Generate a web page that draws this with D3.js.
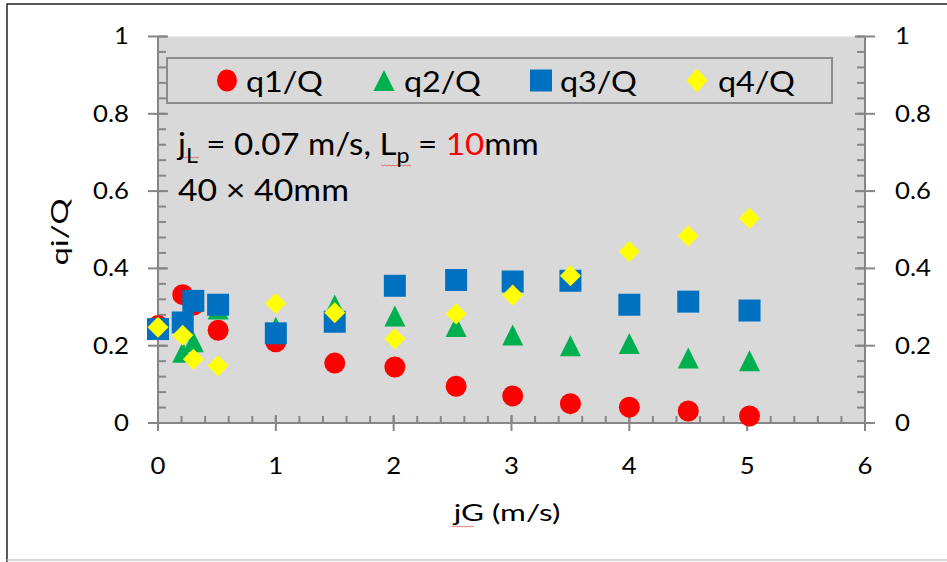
<!DOCTYPE html>
<meta charset="utf-8">
<script src="https://cdn.jsdelivr.net/npm/d3@7"></script>
<style>
body { margin: 0; background: #fff; }
text { font-family: Lato, "Open Sans", sans-serif; fill: #000; }
</style>
<body>
<script>

// jG values (m/s), same for all series
var jG = [0, 0.21, 0.3, 0.51, 1.0, 1.5, 2.01, 2.53, 3.01, 3.5, 4.0, 4.5, 5.02];

var q1 = [0.252, 0.332, 0.305, 0.24, 0.21, 0.155, 0.145, 0.095, 0.07, 0.05, 0.041, 0.031, 0.018];
var q2 = [0.25, 0.183, 0.21, 0.295, 0.248, 0.305, 0.277, 0.25, 0.228, 0.2, 0.206, 0.168, 0.161];
var q3 = [0.243, 0.26, 0.316, 0.306, 0.232, 0.262, 0.355, 0.37, 0.366, 0.368, 0.306, 0.314, 0.291];
var q4 = [0.248, 0.227, 0.165, 0.148, 0.309, 0.285, 0.218, 0.282, 0.331, 0.381, 0.444, 0.484, 0.53];

var xTicks = [0, 1, 2, 3, 4, 5, 6];
var yTicks = [0, 0.2, 0.4, 0.6, 0.8, 1];

var series = [
  {name: "q1/Q", values: q1, color: "#ff0000", shape: "circle"},
  {name: "q2/Q", values: q2, color: "#00b050", shape: "triangle"},
  {name: "q3/Q", values: q3, color: "#0070c0", shape: "square"},
  {name: "q4/Q", values: q4, color: "#ffff00", shape: "diamond"}
];

var width = 947, height = 562;
var pLeft = 158, pRight = 865, pTop = 36.5, pBottom = 423;
var axisColor = "#868686";

var svg = d3.select("body").append("svg")
    .attr("width", width)
    .attr("height", height);

// outer frame
svg.append("path")
    .attr("d", "M7,562 V4 H947")
    .attr("fill", "none")
    .attr("stroke", "#222")
    .attr("stroke-width", 1.5);
svg.append("line")
    .attr("x1", 7).attr("x2", 947).attr("y1", 560).attr("y2", 560)
    .attr("stroke", "#c8c8c8").attr("stroke-width", 1.5);

var x = d3.scaleLinear().domain([0, 6]).range([pLeft, pRight]);
var y = d3.scaleLinear().domain([0, 1]).range([pBottom, pTop]);

// plot area
svg.append("rect")
    .attr("x", pLeft).attr("y", pTop)
    .attr("width", pRight - pLeft).attr("height", pBottom - pTop)
    .attr("fill", "#d9d9d9");

// stretch a text horizontally to a measured width
function fit(sel, cx, w, extra) {
  var bw = sel.node().getBBox().width;
  var s = w / bw;
  sel.attr("transform", (extra || "") + "translate(" + cx + ",0) scale(" + s + ",1) translate(" + (-cx) + ",0)");
}

// ticks
var xMinor = d3.range(0, 6.0001, 0.2);
var yMinor = d3.range(0, 1.0001, 0.04);

var g = svg.append("g").attr("stroke", axisColor).attr("stroke-width", 2);

g.selectAll(".xminor").data(xMinor).enter().append("line")
    .attr("x1", d => x(d)).attr("x2", d => x(d))
    .attr("y1", pBottom).attr("y2", pBottom - 7);
g.selectAll(".xmajor").data(xTicks).enter().append("line")
    .attr("x1", d => x(d)).attr("x2", d => x(d))
    .attr("y1", pBottom - 8).attr("y2", pBottom + 8);

g.selectAll(".ylminor").data(yMinor).enter().append("line")
    .attr("x1", pLeft).attr("x2", pLeft + 8)
    .attr("y1", d => y(d)).attr("y2", d => y(d));
g.selectAll(".ylmajor").data(yTicks).enter().append("line")
    .attr("x1", pLeft - 10).attr("x2", pLeft + 10)
    .attr("y1", d => y(d)).attr("y2", d => y(d));

g.selectAll(".yrminor").data(yMinor).enter().append("line")
    .attr("x1", pRight).attr("x2", pRight - 8)
    .attr("y1", d => y(d)).attr("y2", d => y(d));
g.selectAll(".yrmajor").data(yTicks).enter().append("line")
    .attr("x1", pRight - 10).attr("x2", pRight + 10)
    .attr("y1", d => y(d)).attr("y2", d => y(d));

g.append("line").attr("x1", pLeft).attr("x2", pLeft).attr("y1", pTop).attr("y2", pBottom + 8);
g.append("line").attr("x1", pRight).attr("x2", pRight).attr("y1", pTop).attr("y2", pBottom + 8);
g.append("line").attr("x1", pLeft - 10).attr("x2", pRight + 10).attr("y1", pBottom).attr("y2", pBottom);

// tick labels
svg.selectAll(".xlab").data(xTicks).enter().append("text")
    .attr("x", d => x(d)).attr("y", 474)
    .attr("text-anchor", "middle")
    .style("font-size", "23px")
    .text(d => d)
    .each(function() { fit(d3.select(this), +d3.select(this).attr("x"), this.getBBox().width * 1.12); });

svg.selectAll(".yllab").data(yTicks).enter().append("text")
    .attr("x", 129).attr("y", d => y(d) + 8)
    .attr("text-anchor", "end")
    .style("font-size", "23px")
    .text(d => d)
    .each(function() { fit(d3.select(this), 129, this.getBBox().width * 1.12); });

svg.selectAll(".yrlab").data(yTicks).enter().append("text")
    .attr("x", 895).attr("y", d => y(d) + 8)
    .attr("text-anchor", "start")
    .style("font-size", "23px")
    .text(d => d)
    .each(function() { fit(d3.select(this), 895, this.getBBox().width * 1.12); });

// axis titles
var xt = svg.append("text")
    .attr("x", 507).attr("y", 521)
    .attr("text-anchor", "middle")
    .style("font-size", "23px")
    .text("jG (m/s)");
fit(xt, 507, 108);

var yt = svg.append("text")
    .attr("x", 0).attr("y", 0)
    .attr("text-anchor", "middle")
    .style("font-size", "23px")
    .text("qi/Q");
yt.attr("transform", "translate(68,232) rotate(-90) scale(" + (68 / yt.node().getBBox().width) + ",1)");

// spell-check squiggles
function squiggle(x0, x1, yy) {
  var pts = [];
  for (var i = x0; i <= x1; i += 2) pts.push([i, yy + ((i - x0) / 2 % 2 ? 1 : 0)]);
  svg.append("path").attr("d", d3.line()(pts))
      .attr("fill", "none").attr("stroke", "#e05050").attr("stroke-width", 0.8);
}
squiggle(452, 474, 526);
squiggle(179, 199, 157);
squiggle(381, 411, 165);

// marker shapes
function shapePath(shape, w, h) {
  var a = w / 2, b = h / 2;
  if (shape === "circle") {
    return "M" + (-a) + ",0 A" + a + "," + b + " 0 1,0 " + a + ",0 A" + a + "," + b + " 0 1,0 " + (-a) + ",0Z";
  }
  if (shape === "triangle") return "M0," + (-b) + " L" + a + "," + b + " L" + (-a) + "," + b + "Z";
  if (shape === "square") return "M" + (-a) + "," + (-b) + " H" + a + " V" + b + " H" + (-a) + "Z";
  return "M0," + (-b) + " L" + a + ",0 L0," + b + " L" + (-a) + ",0Z";
}
var markSize = {circle: [21, 21], triangle: [21, 21], square: [22, 22], diamond: [21, 21]};
var legSize = {circle: [20, 22], triangle: [21, 21], square: [22, 22], diamond: [21, 24]};

// legend
var legend = svg.append("g");
legend.append("rect")
    .attr("x", 167).attr("y", 58)
    .attr("width", 665).attr("height", 45)
    .attr("fill", "#d9d9d9")
    .attr("stroke", "#8c8c8c")
    .attr("stroke-width", 2);

var legX = [227, 384, 541, 697];
var legTextX = [246, 404, 560, 718];
series.forEach(function(s, i) {
  legend.append("path")
      .attr("d", shapePath(s.shape, legSize[s.shape][0], legSize[s.shape][1]))
      .attr("transform", "translate(" + legX[i] + ",80.5)")
      .attr("fill", s.color);
  var t = legend.append("text")
      .attr("x", legTextX[i]).attr("y", 92)
      .style("font-size", "29px")
      .text(s.name);
  fit(t, legTextX[i], 77);
});

// annotations
var ann = svg.append("text").attr("x", 178).attr("y", 155).style("font-size", "30px");
ann.append("tspan").text("j");
ann.append("tspan").attr("dy", 8).style("font-size", "21px").text("L");
ann.append("tspan").attr("dy", -8).text(" = 0.07 m/s, L");
ann.append("tspan").attr("dy", 8).style("font-size", "21px").text("p");
ann.append("tspan").attr("dy", -8).text(" = ");
ann.append("tspan").style("fill", "#ff0000").text("10");
ann.append("tspan").text("mm");
fit(ann, 178, 363);

var ann2 = svg.append("text").attr("x", 178).attr("y", 201).style("font-size", "30px").text("40 \u00d7 40mm");
fit(ann2, 178, 171);

// data points
series.forEach(function(s) {
  svg.append("g").selectAll("path")
      .data(jG.map((v, i) => [v, s.values[i]]))
      .enter().append("path")
      .attr("d", shapePath(s.shape, markSize[s.shape][0], markSize[s.shape][1]))
      .attr("transform", d => "translate(" + x(d[0]) + "," + y(d[1]) + ")")
      .attr("fill", s.color);
});

</script>
</body>
